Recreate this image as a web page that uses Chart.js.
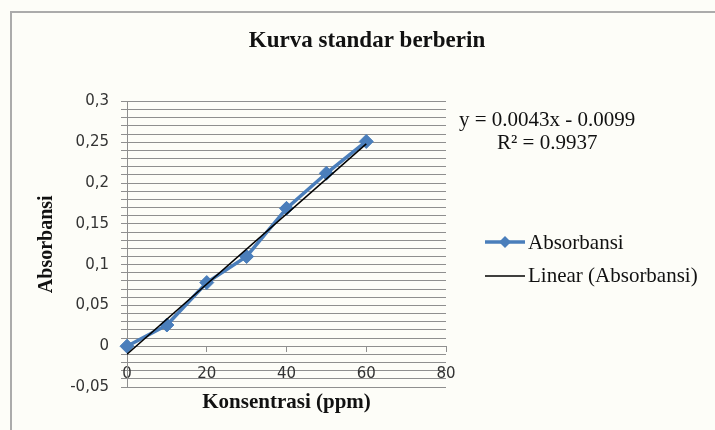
<!DOCTYPE html>
<html>
<head>
<meta charset="utf-8">
<script src="https://cdn.jsdelivr.net/npm/chart.js@4.4.1/dist/chart.umd.min.js"></script>
<style>
  html, body { margin: 0; padding: 0; background: #fdfdf8; }
  #wrap { width: 715px; height: 430px; }
</style>
</head>
<body>
<div id="wrap"><canvas id="chart" width="715" height="430"></canvas></div>
<script>
// data
const konsentrasi = [0, 10, 20, 30, 40, 50, 60];
const absorbansi = [0, 0.026, 0.078, 0.110, 0.169, 0.212, 0.251];
// ends of the trendline y = 0.0043x - 0.0099
const trendX = [0, 60];
const trendY = [-0.0099, 0.248];

const yTickValues = [-0.05, 0, 0.05, 0.1, 0.15, 0.2, 0.25, 0.3];
const yTickLabels = ['-0,05', '0', '0,05', '0,1', '0,15', '0,2', '0,25', '0,3'];
const eqLines = ['y = 0.0043x - 0.0099', 'R\u00B2 = 0.9937'];
const chartTitle = 'Kurva standar berberin';

const blue = '#4a7ebb';
const gridGray = '#8f8f8f';
const serif = '"Liberation Serif", "Times New Roman", serif';

const decor = {
    id: 'decor',
    beforeDraw(c) {
        const ctx = c.ctx;
        ctx.save();
        ctx.fillStyle = '#fdfdf8';
        ctx.fillRect(0, 0, c.width, c.height);
        ctx.strokeStyle = '#ababab';
        ctx.lineWidth = 2;
        ctx.beginPath();
        ctx.moveTo(11, c.height);
        ctx.lineTo(11, 12);
        ctx.lineTo(c.width, 12);
        ctx.stroke();
        ctx.restore();
    },
    afterDraw(c) {
        const ctx = c.ctx;
        ctx.save();
        // title
        ctx.fillStyle = '#111';
        ctx.font = 'bold 23px ' + serif;
        ctx.textAlign = 'center';
        ctx.textBaseline = 'alphabetic';
        ctx.fillText(chartTitle, 367, 47);

        // trendline equation
        ctx.font = '21px ' + serif;
        ctx.textAlign = 'left';
        ctx.fillText(eqLines[0], 459, 126);
        ctx.fillText(eqLines[1], 497, 149);

        // legend
        const ds = c.data.datasets;
        ctx.strokeStyle = ds[0].borderColor;
        ctx.lineWidth = ds[0].borderWidth;
        ctx.beginPath();
        ctx.moveTo(485, 242);
        ctx.lineTo(525, 242);
        ctx.stroke();
        ctx.fillStyle = ds[0].borderColor;
        ctx.beginPath();
        ctx.moveTo(505, 236);
        ctx.lineTo(511, 242);
        ctx.lineTo(505, 248);
        ctx.lineTo(499, 242);
        ctx.closePath();
        ctx.fill();
        ctx.strokeStyle = ds[1].borderColor;
        ctx.lineWidth = ds[1].borderWidth;
        ctx.beginPath();
        ctx.moveTo(485, 276);
        ctx.lineTo(525, 276);
        ctx.stroke();
        ctx.fillStyle = '#111';
        ctx.fillText(ds[0].label, 528, 249);
        ctx.fillText(ds[1].label, 528, 282);
        ctx.restore();
    }
};

const chart = document.getElementById('chart');

new Chart(chart, {
    type: 'scatter',
    data: {
        datasets: [
            {
                label: 'Absorbansi',
                data: konsentrasi.map((x, i) => ({x: x, y: absorbansi[i]})),
                showLine: true,
                borderColor: blue,
                backgroundColor: blue,
                borderWidth: 3.5,
                pointStyle: 'rectRot',
                pointRadius: 7,
                pointBorderWidth: 1,
                pointBackgroundColor: blue,
                clip: false,
                order: 1
            },
            {
                label: 'Linear (Absorbansi)',
                data: trendX.map((x, i) => ({x: x, y: trendY[i]})),
                showLine: true,
                borderColor: '#000000',
                borderWidth: 1.5,
                pointRadius: 0,
                order: 0
            }
        ]
    },
    options: {
        responsive: false,
        animation: false,
        layout: { padding: { left: 0, top: 101.5, right: 269, bottom: 43 } },
        plugins: {
            legend: { display: false },
            tooltip: { enabled: false },
            title: { display: false }
        },
        scales: {
            x: {
                type: 'linear',
                position: { y: 0 },
                min: 0,
                max: 80,
                ticks: {
                    stepSize: 20,
                    padding: 14,
                    color: '#333',
                    font: { family: '"DejaVu Sans"', size: 15 }
                },
                grid: { drawOnChartArea: false, tickColor: gridGray, tickLength: 5 },
                border: { color: gridGray, width: 1 },
                title: {
                    display: true,
                    text: 'Konsentrasi (ppm)',
                    color: '#111',
                    font: { family: serif, size: 21, weight: 'bold' },
                    padding: { top: 0, bottom: 1 }
                },
                afterFit(s) { s.height = 70; }
            },
            y: {
                type: 'linear',
                min: -0.05,
                max: 0.3,
                ticks: {
                    stepSize: 0.01,
                    autoSkip: false,
                    maxTicksLimit: 100,
                    padding: 12,
                    color: '#333',
                    font: { family: '"DejaVu Sans"', size: 15 },
                    callback(v) {
                        const i = yTickValues.findIndex(t => Math.abs(t - v) < 1e-9);
                        return i >= 0 ? yTickLabels[i] : '';
                    }
                },
                grid: { color: gridGray, tickColor: gridGray, tickLength: 6, lineWidth: 1 },
                border: { color: gridGray, width: 1 },
                title: {
                    display: true,
                    text: 'Absorbansi',
                    color: '#111',
                    font: { family: serif, size: 20, weight: 'bold' },
                    padding: { top: 35, bottom: 0 }
                },
                afterFit(s) { s.width = 127; }
            }
        }
    },
    plugins: [decor]
});
</script>
</body>
</html>
